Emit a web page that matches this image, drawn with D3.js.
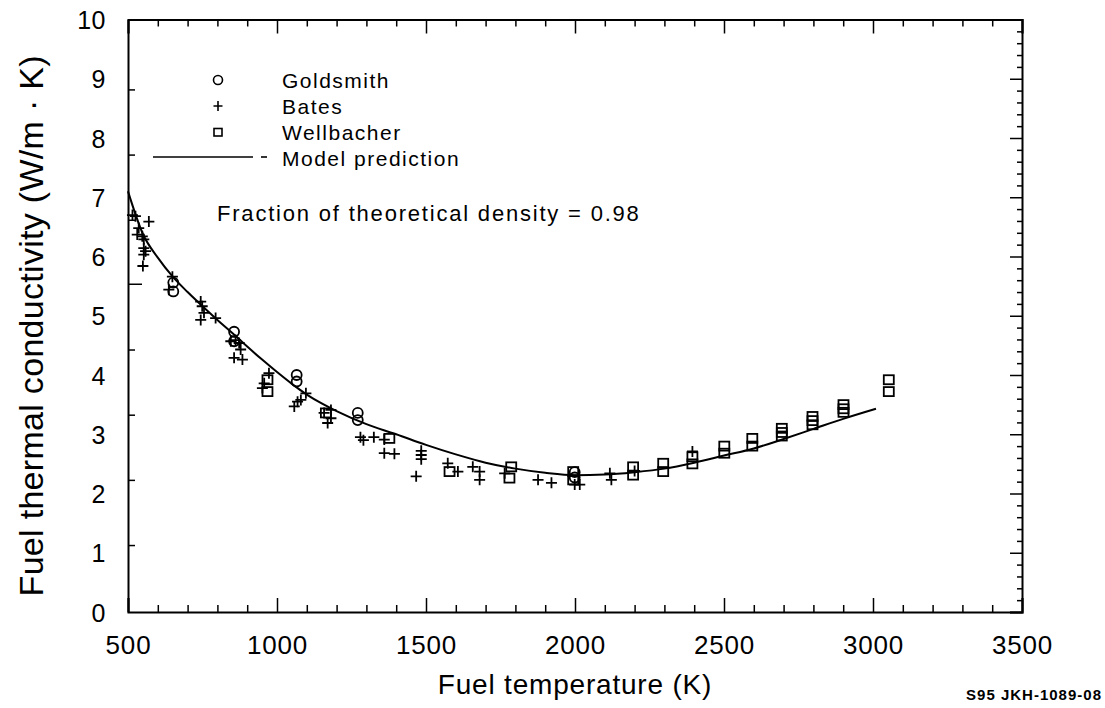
<!DOCTYPE html>
<html>
<head>
<meta charset="utf-8">
<script src="https://cdn.jsdelivr.net/npm/d3@7"></script>
<style>
  html, body { margin: 0; padding: 0; background: #fff; }
  svg { display: block; }
  text { font-family: "Liberation Sans", Arial, Helvetica, sans-serif; fill: #000; }
</style>
</head>
<body>
<svg id="chart" width="1105" height="708"></svg>
<script>
// Axis ticks
const xMajorTicks = [500, 1000, 1500, 2000, 2500, 3000, 3500];
const yMajorTicks = [0, 1, 2, 3, 4, 5, 6, 7, 8, 9, 10];
const yLeftTicks = [1.13, 2.23, 3.33, 4.43, 6.62, 7.72, 8.82];
const yLeftLongTicks = [5.54];

// Goldsmith (circles): temperature K, conductivity W/m·K
const goldsmithT = [652, 652, 856, 856, 1066, 1066, 1271, 1271, 1999, 1999];
const goldsmithK = [5.56, 5.41, 4.73, 4.57, 4.00, 3.89, 3.36, 3.24, 2.36, 2.27];

// Bates (plus signs)
const batesT = [515, 525, 536, 531, 548, 553, 570, 553, 559, 553, 550,
  649, 637, 744, 749, 755, 744, 794, 845, 861, 873, 878, 856, 884,
  957, 951, 973, 1058, 1069, 1080, 1097, 1158, 1181, 1170, 1181,
  1280, 1290, 1325, 1360, 1360, 1394, 1484, 1484, 1484, 1467,
  1573, 1607, 1657, 1680, 1680, 1764, 1876, 1921, 1999, 2016,
  2117, 2122, 2200, 2394];
const batesK = [6.70, 6.68, 6.48, 6.37, 6.34, 6.29, 6.59, 6.14, 6.09, 6.03, 5.84,
  5.66, 5.44, 5.24, 5.16, 5.05, 4.93, 4.96, 4.57, 4.59, 4.54, 4.43, 4.29, 4.26,
  3.86, 3.78, 4.03, 3.47, 3.55, 3.58, 3.69, 3.36, 3.41, 3.19, 3.27,
  2.95, 2.90, 2.95, 2.91, 2.68, 2.67, 2.72, 2.65, 2.58, 2.29,
  2.51, 2.37, 2.45, 2.37, 2.23, 2.34, 2.23, 2.18, 2.15, 2.15,
  2.34, 2.23, 2.38, 2.71];

// Wellbacher (squares)
const wellbacherT = [968, 968, 1164, 1377, 1579, 1786, 1780, 1994, 1994,
  2195, 2195, 2296, 2296, 2394, 2394, 2501, 2501, 2595, 2595,
  2694, 2694, 2694, 2797, 2797, 2797, 2901, 2901, 2901, 3053, 3053];
const wellbacherK = [3.92, 3.72, 3.36, 2.93, 2.37, 2.45, 2.26, 2.37, 2.23,
  2.45, 2.31, 2.51, 2.37, 2.62, 2.50, 2.80, 2.68, 2.93, 2.80,
  3.10, 3.03, 2.97, 3.30, 3.23, 3.16, 3.50, 3.43, 3.37, 3.92, 3.72];

// Model prediction curve
const modelT = [500, 550, 600, 650, 700, 750, 800, 850, 900, 950, 1000,
  1050, 1100, 1150, 1200, 1300, 1400, 1500, 1600, 1700, 1800, 1900, 2000, 2100,
  2200, 2300, 2400, 2500, 2600, 2700, 2800, 2900, 3010];
const modelK = [7.10, 6.38, 5.98, 5.66, 5.40, 5.16, 4.93, 4.71, 4.48, 4.26, 4.05,
  3.85, 3.67, 3.52, 3.39, 3.17, 3.00, 2.82, 2.66, 2.52, 2.42, 2.35, 2.31, 2.32,
  2.36, 2.42, 2.52, 2.64, 2.76, 2.92, 3.09, 3.26, 3.43];

const svg = d3.select("#chart");
const plotLeft = 128, plotRight = 1022, plotTop = 19.5, plotBottom = 612;

const x = d3.scaleLinear().domain([500, 3500]).range([plotLeft, plotRight]);
const y = d3.scaleLinear().domain([0, 10]).range([plotBottom, plotTop]);

const xMinor = d3.range(600, 3500, 100).filter(v => v % 500 !== 0);
const yMinor = d3.range(0, 10.001, 0.2).map(v => +v.toFixed(1)).filter(v => Math.abs(v - Math.round(v)) > 1e-6);

function styleAxis(g) {
  g.selectAll(".domain").attr("stroke", "#000").attr("stroke-width", 2);
  g.selectAll(".tick line").attr("stroke", "#000").attr("stroke-width", 1.5);
}

// Bottom axis: labelled major ticks, inward
const gB = svg.append("g").attr("transform", `translate(0,${plotBottom})`)
  .call(d3.axisBottom(x).tickValues(xMajorTicks).tickSize(-14).tickPadding(0).tickFormat(d3.format("d")))
  .call(styleAxis);
gB.selectAll(".tick text").attr("y", 42).attr("dy", 0)
  .attr("font-size", 26).attr("letter-spacing", 0.8);
svg.append("g").attr("transform", `translate(0,${plotBottom})`)
  .call(d3.axisBottom(x).tickValues(xMinor).tickSize(-7).tickFormat(""))
  .call(styleAxis).select(".domain").remove();

// Top axis
svg.append("g").attr("transform", `translate(0,${plotTop})`)
  .call(d3.axisTop(x).tickValues(xMajorTicks).tickSize(-14).tickFormat(""))
  .call(styleAxis);
svg.append("g").attr("transform", `translate(0,${plotTop})`)
  .call(d3.axisTop(x).tickValues(xMinor).tickSize(-7).tickFormat(""))
  .call(styleAxis).select(".domain").remove();

// Left axis: labels plus its own tick marks
const gL = svg.append("g").attr("transform", `translate(${plotLeft},0)`)
  .call(d3.axisLeft(y).tickValues(yMajorTicks).tickSize(0).tickPadding(22).tickFormat(d3.format("d")))
  .call(styleAxis);
gL.selectAll(".tick text").attr("font-size", 25).attr("dy", "0.36em").attr("letter-spacing", 0.5);
svg.append("g").attr("transform", `translate(${plotLeft},0)`)
  .call(d3.axisLeft(y).tickValues(yLeftTicks).tickSize(-7).tickFormat(""))
  .call(styleAxis).select(".domain").remove();
svg.append("g").attr("transform", `translate(${plotLeft},0)`)
  .call(d3.axisLeft(y).tickValues(yLeftLongTicks).tickSize(-14).tickFormat(""))
  .call(styleAxis).select(".domain").remove();

// Right axis
svg.append("g").attr("transform", `translate(${plotRight},0)`)
  .call(d3.axisRight(y).tickValues(yMajorTicks).tickSize(-12).tickFormat(""))
  .call(styleAxis);
svg.append("g").attr("transform", `translate(${plotRight},0)`)
  .call(d3.axisRight(y).tickValues(yMinor).tickSize(-5).tickFormat(""))
  .call(styleAxis).select(".domain").remove();

// Model prediction
const line = d3.line().x(d => x(d[0])).y(d => y(d[1])).curve(d3.curveMonotoneX);
svg.append("path")
  .datum(modelT.map((t, i) => [t, modelK[i]]))
  .attr("d", line).attr("fill", "none").attr("stroke", "#000").attr("stroke-width", 2);

// Markers
const plot = svg.append("g").attr("fill", "none").attr("stroke", "#000").attr("stroke-width", 1.8);

plot.selectAll("circle.gold")
  .data(goldsmithT.map((t, i) => [t, goldsmithK[i]]))
  .join("circle").attr("class", "gold")
  .attr("cx", d => x(d[0])).attr("cy", d => y(d[1])).attr("r", 5);

const plusPath = "M-5.5,0H5.5M0,-5.5V5.5";
plot.selectAll("path.bates")
  .data(batesT.map((t, i) => [t, batesK[i]]))
  .join("path").attr("class", "bates")
  .attr("transform", d => `translate(${x(d[0])},${y(d[1])})`)
  .attr("d", plusPath);

plot.selectAll("rect.well")
  .data(wellbacherT.map((t, i) => [t, wellbacherK[i]]))
  .join("rect").attr("class", "well")
  .attr("x", d => x(d[0]) - 5).attr("y", d => y(d[1]) - 4.5)
  .attr("width", 10).attr("height", 9);

// Legend
const legend = svg.append("g");
const lgFont = 21, lgSpacing = 1.5;
const lgItems = ["Goldsmith", "Bates", "Wellbacher", "Model prediction"];
const lgY = [80, 106, 132, 158];
lgItems.forEach((t, i) => {
  legend.append("text").attr("x", 282).attr("y", lgY[i]).attr("dy", "0.36em")
    .attr("font-size", lgFont).attr("letter-spacing", lgSpacing).text(t);
});
legend.append("circle").attr("cx", 218).attr("cy", lgY[0]).attr("r", 4.5)
  .attr("fill", "none").attr("stroke", "#000").attr("stroke-width", 1.6);
legend.append("path").attr("transform", `translate(218,${lgY[1]})`).attr("d", "M-4.5,0H4.5M0,-5V5")
  .attr("stroke", "#000").attr("stroke-width", 1.6);
legend.append("rect").attr("x", 214).attr("y", lgY[2] - 3.5).attr("width", 8).attr("height", 7.5)
  .attr("fill", "none").attr("stroke", "#000").attr("stroke-width", 1.6);
legend.append("line").attr("x1", 153).attr("x2", 253).attr("y1", lgY[3] - 1).attr("y2", lgY[3] - 1)
  .attr("stroke", "#000").attr("stroke-width", 1.6);
legend.append("line").attr("x1", 261).attr("x2", 267).attr("y1", lgY[3] - 1).attr("y2", lgY[3] - 1)
  .attr("stroke", "#000").attr("stroke-width", 1.6);

svg.append("text").attr("x", 217).attr("y", 213).attr("dy", "0.36em")
  .attr("font-size", 22).attr("letter-spacing", 1.8)
  .text("Fraction of theoretical density = 0.98");

// Axis titles
svg.append("text").attr("x", (plotLeft + plotRight) / 2).attr("y", 694)
  .attr("text-anchor", "middle").attr("font-size", 28).attr("letter-spacing", 0.8)
  .text("Fuel temperature (K)");
svg.append("text")
  .attr("transform", `translate(43,${(plotTop + plotBottom) / 2 + 10}) rotate(-90)`)
  .attr("text-anchor", "middle").attr("font-size", 34).attr("letter-spacing", 0.3)
  .text("Fuel thermal conductivity (W/m · K)");

// Figure code
svg.append("text").attr("x", 1102).attr("y", 700).attr("text-anchor", "end")
  .attr("font-size", 15).attr("font-weight", "bold").attr("letter-spacing", 1)
  .text("S95 JKH-1089-08");
</script>
</body>
</html>
